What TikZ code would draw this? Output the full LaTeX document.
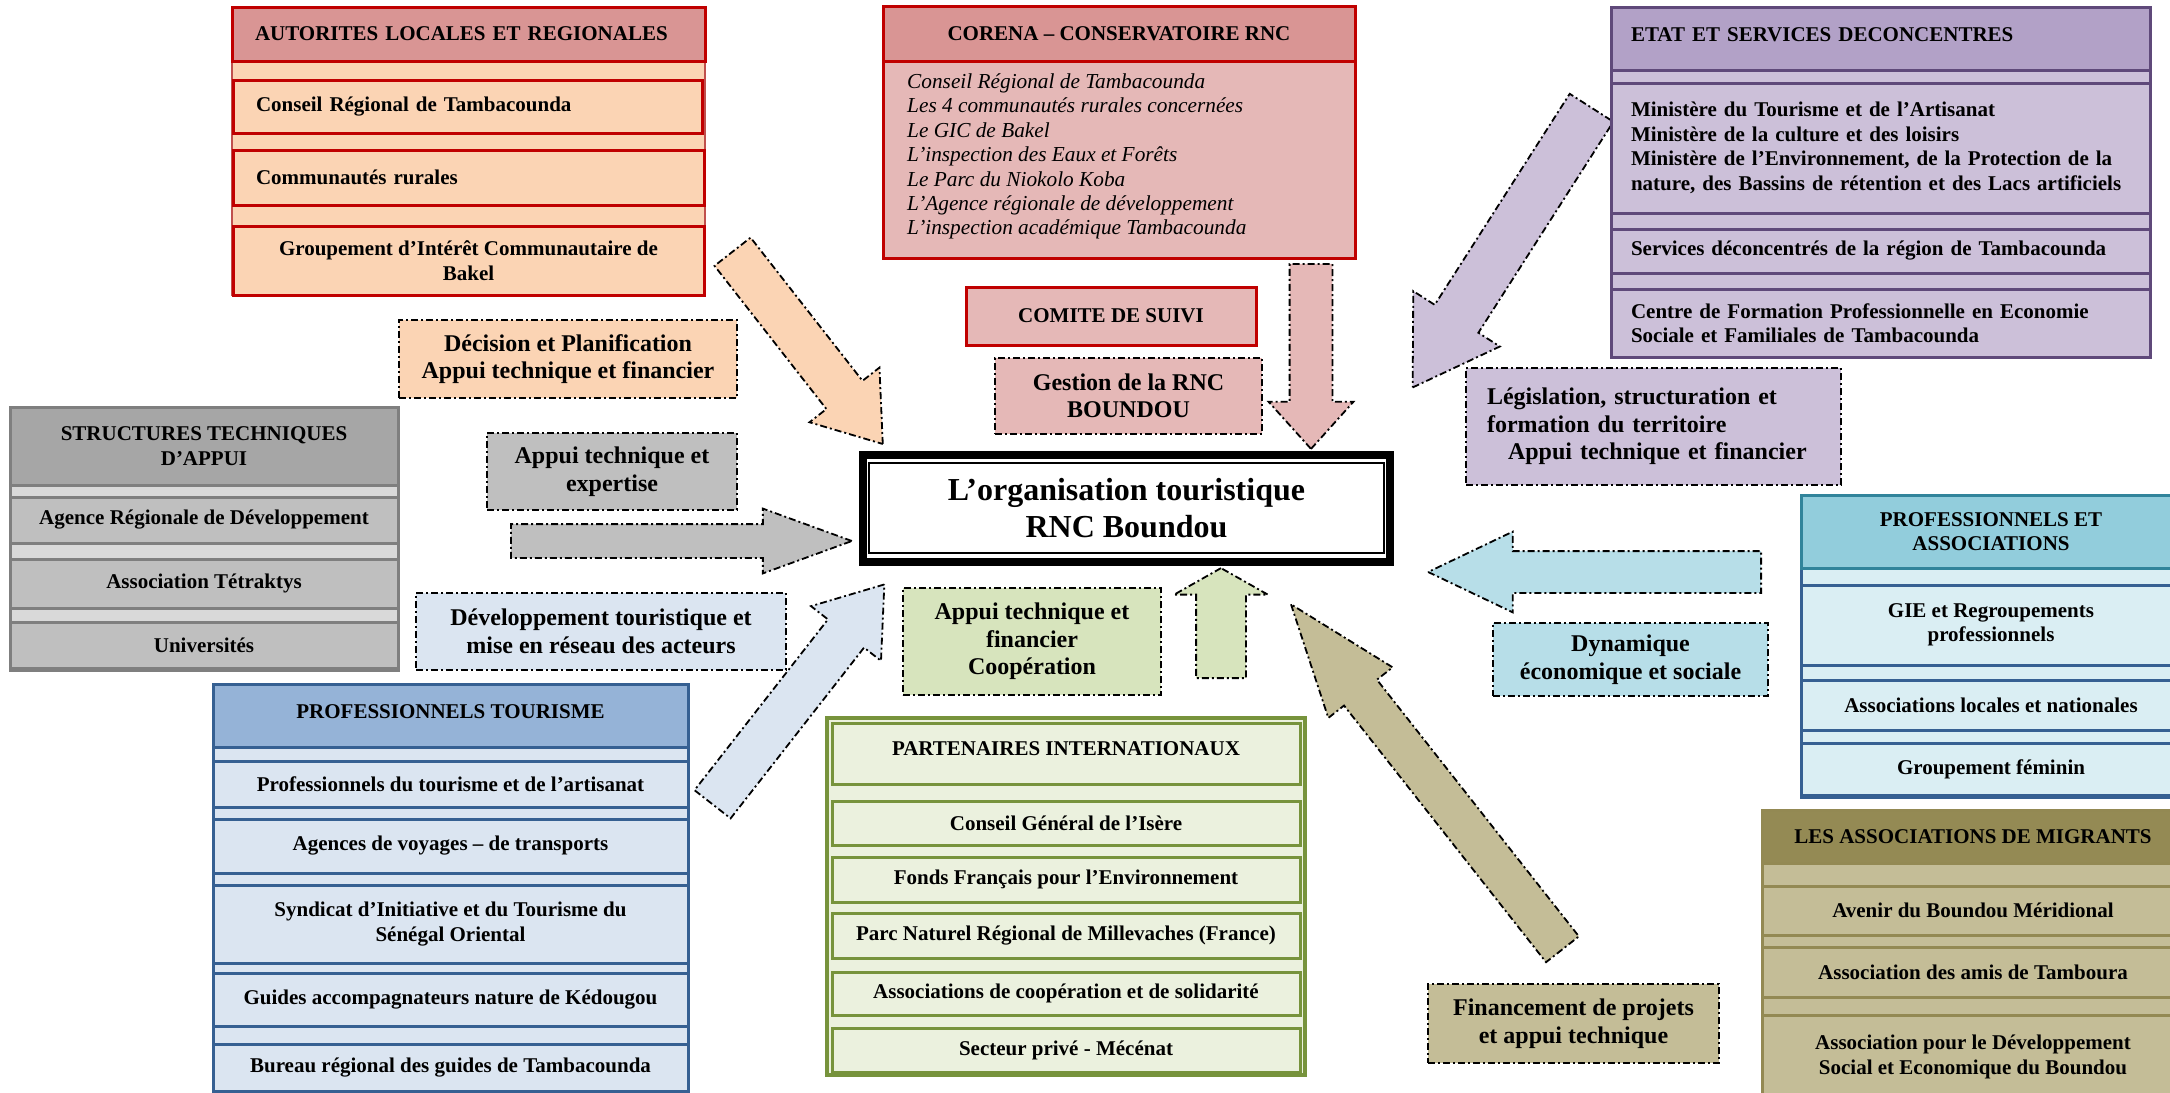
\documentclass[tikz,border=0pt]{standalone}
\usepackage{fontspec}
\setmainfont{Liberation Serif}
\usetikzlibrary{shapes.arrows}

\definecolor{autRed}{HTML}{C00000}
\definecolor{autRose}{HTML}{D99594}
\definecolor{autPeach}{HTML}{FBD4B4}
\definecolor{autEdge}{HTML}{C0504D}
\definecolor{corPink}{HTML}{E5B8B7}
\definecolor{etaPurple}{HTML}{5F497A}
\definecolor{etaHead}{HTML}{B2A1C7}
\definecolor{etaFill}{HTML}{CCC0D9}
\definecolor{strEdge}{HTML}{7F7F7F}
\definecolor{strHead}{HTML}{A6A6A6}
\definecolor{strFill}{HTML}{BFBFBF}
\definecolor{strGap}{HTML}{D9D9D9}
\definecolor{touBlue}{HTML}{366092}
\definecolor{touHead}{HTML}{95B3D7}
\definecolor{touFill}{HTML}{DBE5F1}
\definecolor{parGreen}{HTML}{77933C}
\definecolor{parFill}{HTML}{EBF1DE}
\definecolor{parTag}{HTML}{D7E4BD}
\definecolor{asoTeal}{HTML}{31849B}
\definecolor{asoHead}{HTML}{92CDDC}
\definecolor{asoFill}{HTML}{DAEEF3}
\definecolor{asoTag}{HTML}{B7DEE8}
\definecolor{migEdge}{HTML}{938953}
\definecolor{migHead}{HTML}{948A54}
\definecolor{migFill}{HTML}{C4BD97}

\newcommand{\orgboxfont}{\fontsize{21}{24.5}\selectfont\bfseries}
\newcommand{\orgtagfont}{\fontsize{24}{27.5}\selectfont\bfseries}
\newcommand{\orgtitlefont}{\fontsize{32}{37}\selectfont\bfseries}
\newcommand{\orglistfont}{\fontsize{21.3}{24.4}\selectfont\itshape}

\begin{document}
\begin{tikzpicture}[x=1pt, y=-1pt,
    hdr/.style={draw, line width=3pt, font=\orgboxfont, inner sep=0pt, align=center},
    tag/.style={draw, line width=1.8pt, dash pattern=on 7pt off 3pt on 2pt off 3pt,
        font=\orgtagfont, align=center, inner sep=0pt},
    bigarrow/.style={single arrow, draw, line width=1.8pt,
        dash pattern=on 7pt off 3pt on 2pt off 3pt, inner xsep=0pt, anchor=tail}]
    \useasboundingbox (0,0) rectangle (2170,1092);
    \clip (0,0) rectangle (2170,1092);

    % Arrows towards the centre (inner ysep = half the shaft)
    \node[bigarrow, fill=autPeach, rotate=-52, minimum height=244pt, minimum width=87pt, inner ysep=22pt,
        single arrow head extend=21.5pt, single arrow tip angle=71] (arAut) at (732,251) {};
    \node[bigarrow, fill=etaFill, rotate=-122.6, minimum height=332pt, minimum width=101pt, inner ysep=25pt,
        single arrow head extend=25.5pt, single arrow tip angle=64.5] (arEta) at (1592,107) {};
    \node[bigarrow, fill=corPink, rotate=-90, minimum height=185pt, minimum width=83pt, inner ysep=20.5pt,
        single arrow head extend=21pt, single arrow tip angle=84] (arCor) at (1311,263) {};
    \node[bigarrow, fill=strFill, rotate=0, minimum height=341pt, minimum width=63pt, inner ysep=16pt,
        single arrow head extend=15.5pt, single arrow tip angle=40] (arStr) at (510,541) {};
    \node[bigarrow, fill=touFill, rotate=52, minimum height=279pt, minimum width=87pt, inner ysep=22pt,
        single arrow head extend=21.5pt, single arrow tip angle=71] (arTou) at (712,805) {};
    \node[bigarrow, fill=parTag, rotate=90, minimum height=110pt, minimum width=92pt, inner ysep=24pt,
        single arrow head extend=22pt, single arrow tip angle=121] (arPar) at (1221,679) {};
    \node[bigarrow, fill=asoTag, rotate=180, minimum height=333pt, minimum width=79pt, inner ysep=20pt,
        single arrow head extend=19.5pt, single arrow tip angle=51] (arAso) at (1762,572) {};
    \node[bigarrow, fill=migFill, rotate=128.2, minimum height=439pt, minimum width=80pt, inner ysep=20pt,
        single arrow head extend=20pt, single arrow tip angle=40] (arMig) at (1563,950) {};

    % Autorites locales et regionales
    \draw[fill=autPeach, draw=autEdge, line width=1.5pt] (232,7) rectangle (705,295);
    \node[hdr, draw=autRed, fill=autRose, minimum width=473pt, minimum height=54pt,
        align=left, text width=427pt] (autHead) at (468.5,34) {AUTORITES LOCALES ET REGIONALES};
    \node[hdr, draw=autRed, fill=autPeach, minimum width=469pt, minimum height=53pt,
        align=left, text width=423pt] (autCons) at (467.5,106.5) {Conseil Régional de Tambacounda};
    \node[hdr, draw=autRed, fill=autPeach, minimum width=471pt, minimum height=55pt,
        align=left, text width=425pt] (autComm) at (468.5,177.5) {Communautés rurales};
    \node[hdr, draw=autRed, fill=autPeach, minimum width=471pt, minimum height=69pt]
        (autGic) at (468.5,260.5) {Groupement d’Intérêt Communautaire de\\Bakel};

    % Corena
    \node[hdr, draw=autRed, fill=corPink, minimum width=472pt, minimum height=252pt] (corBody) at (1119,132) {};
    \node[hdr, draw=autRed, fill=autRose, minimum width=472pt, minimum height=55pt]
        (corHead) at (1119,33.5) {CORENA – CONSERVATOIRE RNC};
    \node[font=\orglistfont, align=left, inner sep=0pt, anchor=north west] (corList) at (907,73.5)
        {Conseil Régional de Tambacounda\\Les 4 communautés rurales concernées\\Le GIC de Bakel\\
         L’inspection des Eaux et Forêts\\Le Parc du Niokolo Koba\\
         L’Agence régionale de développement\\L’inspection  académique Tambacounda};
    \node[hdr, draw=autRed, fill=corPink, minimum width=290pt, minimum height=58pt] (comite) at (1111,316) {COMITE DE SUIVI};

    % Etat et services deconcentres
    \draw[fill=etaFill, draw=etaPurple, line width=3pt] (1611,7) rectangle (2150,357);
    \node[hdr, draw=etaPurple, fill=etaHead, minimum width=539pt, minimum height=63pt,
        align=left, text width=499pt] (etaHead) at (1880.5,38.5)
        {\raisebox{4pt}[\height][\depth]{ETAT ET SERVICES DECONCENTRES}};
    \node[hdr, draw=etaPurple, fill=etaFill, minimum width=539pt, minimum height=130pt,
        align=left, text width=499pt] (etaMin) at (1880.5,148)
        {Ministère du Tourisme et de l’Artisanat\\Ministère de la culture et des loisirs\\
         Ministère de l’Environnement, de la Protection de la\\nature, des Bassins de rétention et des Lacs artificiels};
    \node[hdr, draw=etaPurple, fill=etaFill, minimum width=539pt, minimum height=44pt,
        align=left, text width=499pt] (etaServ) at (1880.5,251) {Services déconcentrés de la région de Tambacounda};
    \node[hdr, draw=etaPurple, fill=etaFill, minimum width=539pt, minimum height=68pt,
        align=left, text width=499pt] (etaCfp) at (1880.5,323)
        {Centre de Formation Professionnelle en Economie\\Sociale et Familiales de Tambacounda};

    % Structures techniques d'appui
    \draw[fill=strGap, draw=strEdge, line width=3pt] (10,407) rectangle (398,670);
    \node[hdr, draw=strEdge, fill=strHead, minimum width=388pt, minimum height=78pt] (strHead) at (204,446)
        {STRUCTURES TECHNIQUES\\D’APPUI};
    \node[hdr, draw=strEdge, fill=strFill, minimum width=388pt, minimum height=46pt] (strArd) at (204,520)
        {Agence Régionale de Développement};
    \node[hdr, draw=strEdge, fill=strFill, minimum width=388pt, minimum height=49pt] (strTet) at (204,583.5)
        {Association Tétraktys};
    \node[hdr, draw=strEdge, fill=strFill, minimum width=388pt, minimum height=46pt] (strUni) at (204,645)
        {Universités};

    % Professionnels tourisme
    \draw[fill=touFill, draw=touBlue, line width=3pt] (213,684) rectangle (688,1100);
    \node[hdr, draw=touBlue, fill=touHead, minimum width=475pt, minimum height=63pt] (touHead) at (450.5,715.5)
        {\raisebox{4pt}[\height][\depth]{PROFESSIONNELS TOURISME}};
    \node[hdr, draw=touBlue, fill=touFill, minimum width=475pt, minimum height=46pt] (touPro) at (450.5,784)
        {Professionnels du tourisme et de l’artisanat};
    \node[hdr, draw=touBlue, fill=touFill, minimum width=475pt, minimum height=54pt] (touAge) at (450.5,846)
        {Agences de voyages – de transports};
    \node[hdr, draw=touBlue, fill=touFill, minimum width=475pt, minimum height=78pt] (touSyn) at (450.5,924)
        {Syndicat d’Initiative et du Tourisme du\\Sénégal Oriental};
    \node[hdr, draw=touBlue, fill=touFill, minimum width=475pt, minimum height=53pt] (touGui) at (450.5,999.5)
        {Guides accompagnateurs nature de Kédougou};
    \node[hdr, draw=touBlue, fill=touFill, minimum width=475pt, minimum height=47pt] (touBur) at (450.5,1067.5)
        {Bureau régional des guides de Tambacounda};

    % Partenaires internationaux
    \draw[fill=parFill, draw=parGreen, line width=3.5pt] (827,718) rectangle (1305,1075);
    \node[hdr, draw=parGreen, fill=parFill, minimum width=468pt, minimum height=61pt] (parHead) at (1066,753.5)
        {\raisebox{5pt}[\height][\depth]{PARTENAIRES INTERNATIONAUX}};
    \node[hdr, draw=parGreen, fill=parFill, minimum width=468pt, minimum height=44pt] (parCg) at (1066,823)
        {Conseil Général de l’Isère};
    \node[hdr, draw=parGreen, fill=parFill, minimum width=468pt, minimum height=45pt] (parFfe) at (1066,879.5)
        {Fonds Français pour l’Environnement};
    \node[hdr, draw=parGreen, fill=parFill, minimum width=468pt, minimum height=45pt] (parPnr) at (1066,935.5)
        {Parc Naturel Régional de Millevaches (France)};
    \node[hdr, draw=parGreen, fill=parFill, minimum width=468pt, minimum height=43pt] (parAss) at (1066,993.5)
        {Associations de coopération et de solidarité};
    \node[hdr, draw=parGreen, fill=parFill, minimum width=468pt, minimum height=44pt] (parSec) at (1066,1050)
        {Secteur privé - Mécénat};

    % Professionnels et associations
    \draw[fill=asoFill, draw=touBlue, line width=3pt] (1801,495) rectangle (2181,797);
    \node[hdr, draw=asoTeal, fill=asoHead, minimum width=380pt, minimum height=73pt] (asoHead) at (1991,531.5)
        {PROFESSIONNELS ET\\ASSOCIATIONS};
    \node[hdr, draw=touBlue, fill=asoFill, minimum width=380pt, minimum height=80pt] (asoGie) at (1991,625)
        {GIE et Regroupements\\professionnels};
    \node[hdr, draw=touBlue, fill=asoFill, minimum width=380pt, minimum height=50pt] (asoLoc) at (1991,705)
        {Associations locales et nationales};
    \node[hdr, draw=touBlue, fill=asoFill, minimum width=380pt, minimum height=52pt] (asoFem) at (1991,769)
        {Groupement féminin};

    % Les associations de migrants
    \draw[fill=migFill, draw=migEdge, line width=3pt] (1762,810) rectangle (2184,1100);
    \node[hdr, draw=migEdge, fill=migHead, minimum width=422pt, minimum height=53pt] (migHead) at (1973,836.5)
        {LES ASSOCIATIONS DE MIGRANTS};
    \node[hdr, draw=migEdge, fill=migFill, minimum width=422pt, minimum height=49pt] (migAve) at (1973,910.5)
        {Avenir du Boundou Méridional};
    \node[hdr, draw=migEdge, fill=migFill, minimum width=422pt, minimum height=50pt] (migTam) at (1973,972)
        {Association des amis de Tamboura};
    \node[hdr, draw=migEdge, fill=migFill, minimum width=422pt, minimum height=84pt] (migAds) at (1973,1057)
        {Association pour le Développement\\Social et Economique du Boundou};

    % Roles (dash-dotted labels)
    \node[tag, fill=autPeach, minimum width=338pt, minimum height=78pt] (tagDec) at (568,359)
        {Décision et Planification\\Appui technique et financier};
    \node[tag, fill=strFill, minimum width=250pt, minimum height=77pt] (tagExp) at (612,471.5)
        {Appui technique et\\expertise};
    \node[tag, fill=touFill, minimum width=370pt, minimum height=77pt] (tagDev) at (601,631.5)
        {Développement touristique et\\mise en réseau des acteurs};
    \node[tag, fill=parTag, minimum width=258pt, minimum height=107pt] (tagCoop) at (1032,641.5)
        {Appui technique et\\financier\\Coopération};
    \node[tag, fill=corPink, minimum width=267pt, minimum height=76pt] (tagGes) at (1128.5,396)
        {Gestion de la RNC\\BOUNDOU};
    \node[tag, fill=etaFill, minimum width=375pt, minimum height=117pt, align=left, text width=333pt]
        (tagLeg) at (1653.5,426.5)
        {Législation, structuration et\\formation du territoire\\\hspace*{21pt}Appui technique et financier};
    \node[tag, fill=asoTag, minimum width=275pt, minimum height=73pt] (tagDyn) at (1630.5,659.5)
        {Dynamique\\économique et sociale};
    \node[tag, fill=migFill, minimum width=291pt, minimum height=79pt] (tagFin) at (1573.5,1023.5)
        {Financement de projets\\et appui technique};

    % Centre
    \node[draw, line width=1.5pt, minimum width=515pt, minimum height=90pt, font=\orgtitlefont,
        align=center, inner sep=0pt, fill=white] (title) at (1126.5,508)
        {L’organisation touristique\\RNC Boundou};
    \draw[line width=8pt] ([shift={(-5pt,7pt)}]title.north west) rectangle ([shift={(5pt,-8pt)}]title.south east);
\end{tikzpicture}
\end{document}
